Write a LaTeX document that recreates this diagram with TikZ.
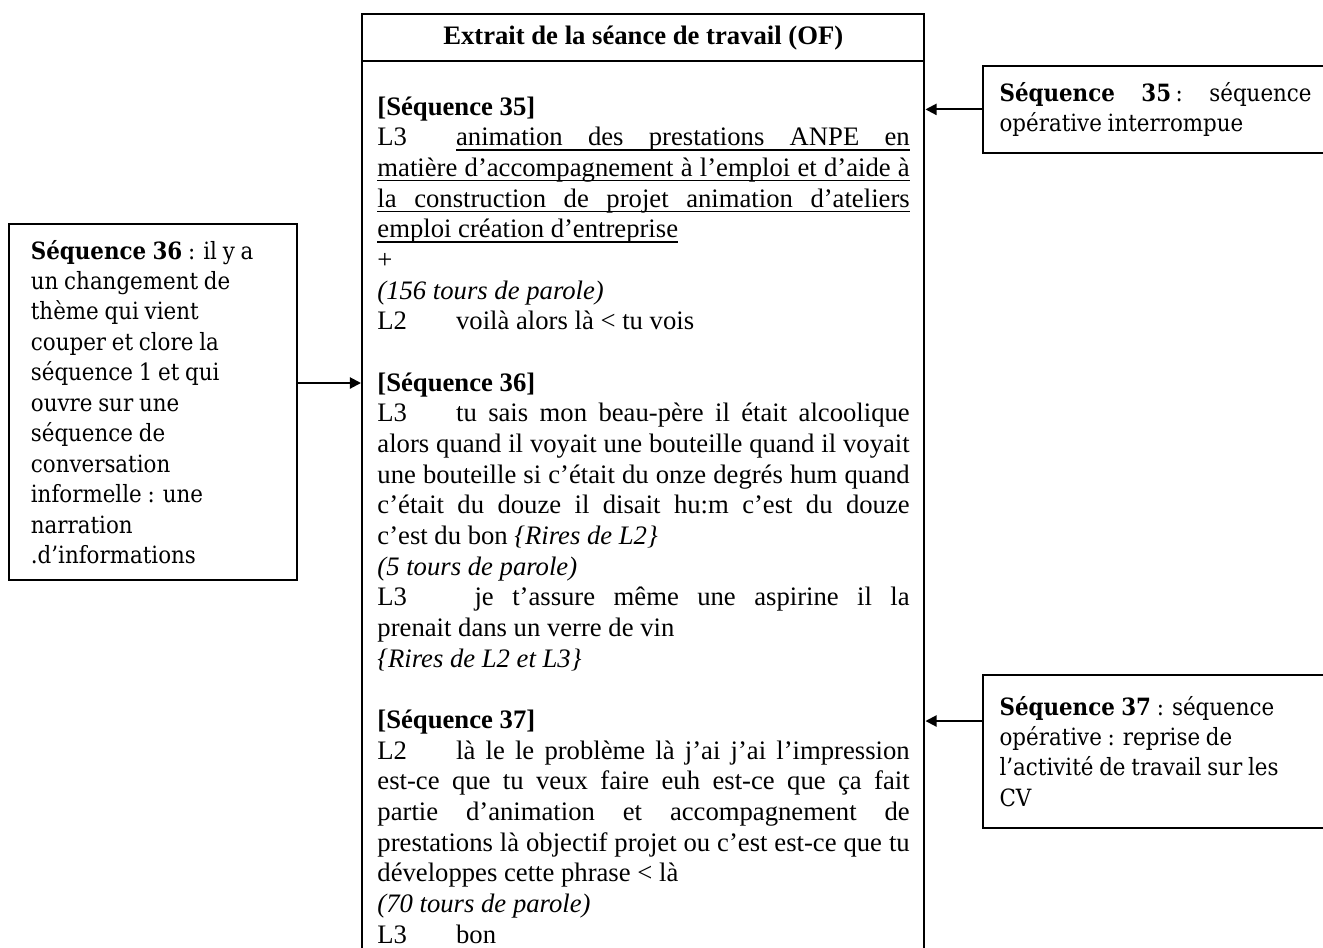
\documentclass[tikz,border=0pt]{standalone}
\usepackage{fontspec}
\setmainfont{Liberation Serif}
\newfontfamily\notefont[WordSpace=0.85]{DejaVu Serif Condensed}
\usetikzlibrary{arrows.meta}

% tab stop, justified line and underline
\newlength\largeur
\setlength\largeur{239.5bp}
\newcommand{\esp}{\spaceskip=0pt\relax\xspaceskip=0pt\relax}
\newcommand{\tabL}[1]{\makebox[35.4bp][l]{#1}}
\newcommand{\jline}[1]{\leavevmode\makebox[\largeur][s]{#1}}
\newcommand{\soul}[2]{\leavevmode\rlap{\raisebox{-2.3bp}{\rule{#1}{0.6bp}}}\makebox[#1][s]{#2}}
\newsavebox\ulbox
\newcommand{\soulN}[1]{\leavevmode\sbox\ulbox{#1}\rlap{\raisebox{-2.3bp}{\rule{\wd\ulbox}{0.6bp}}}\usebox\ulbox}

\begin{document}
\begin{tikzpicture}[x=0.45bp, y=-0.45bp,
        cadre/.style={draw, line width=1.1bp, inner sep=0pt, anchor=north west},
        note/.style={draw, line width=0.8bp, anchor=north west, align=left,
            font=\notefont\fontsize{10.7bp}{13.7bp}\selectfont, execute at begin node={\esp}},
        texte/.style={anchor=base west, inner sep=0pt, text width=239.5bp, align=left,
            font=\fontsize{12bp}{13.8bp}\selectfont, execute at begin node={\esp}},
        fleche/.style={line width=0.9bp, -{Triangle[length=5bp, width=5bp]}}]
        \useasboundingbox (0,0) rectangle (1323,947);
        \clip (0,0) rectangle (1323,947);

        % Extract table
        \node[cadre, minimum width=252.9bp, minimum height=444bp] (extrait) at (361,13) {};
        \node[cadre, minimum width=252.9bp, minimum height=21.15bp,
            font=\bfseries\fontsize{12bp}{13.8bp}\selectfont] (titre) at (361,13)
            {Extrait de la séance de travail (OF)};

        \node[texte] (dialogue) at (377,115) {%
            \textbf{[Séquence 35]}\\
            \jline{\tabL{L3}\soul{204.1bp}{animation des prestations ANPE en}}\\
            \soul{\largeur}{matière d’accompagnement à l’emploi et d’aide à}\\
            \soul{\largeur}{la construction de projet animation d’ateliers}\\
            \soulN{emploi création d’entreprise}\\
            +\\
            \textit{(156 tours de parole)}\\
            \tabL{L2}voilà alors là < tu vois\\[13.8bp]
            \textbf{[Séquence 36]}\\
            \jline{\tabL{L3}tu sais mon beau-père il était alcoolique}\\
            \jline{alors quand il voyait une bouteille quand il voyait}\\
            \jline{une bouteille si c’était du onze degrés hum quand}\\
            \jline{c’était du douze il disait hu:m c’est du douze}\\
            c’est du bon \textit{\{Rires de L2\}}\\
            \textit{(5 tours de parole)}\\
            \jline{\tabL{L3}\ je t’assure même une aspirine il la}\\
            prenait dans un verre de vin\\
            \textit{\{Rires de L2 et L3\}}\\[13.8bp]
            \textbf{[Séquence 37]}\\
            \jline{\tabL{L2}là le le problème là j’ai j’ai l’impression}\\
            \jline{est-ce que tu veux faire euh est-ce que ça fait}\\
            \jline{partie d’animation et accompagnement de}\\
            \jline{prestations là objectif projet ou c’est est-ce que tu}\\
            développes cette phrase < là\\
            \textit{(70 tours de parole)}\\
            \tabL{L3}bon};

        % Comments
        \node[note, minimum width=129.6bp, minimum height=160.2bp, text width=109.8bp,
            inner xsep=9.9bp] (seq36) at (8,223) {%
            \textbf{Séquence 36} : il y a\\
            un changement de\\
            thème qui vient\\
            couper et clore la\\
            séquence 1 et qui\\
            ouvre sur une\\
            séquence de\\
            conversation\\
            informelle : une\\
            narration\\
            .d’informations};
        \node[note, minimum height=39.15bp, text width=160bp, inner xsep=7.5bp] (seq35) at (982,65) {%
            \hbox to 140.4bp{\textbf{Séquence}\hfil\textbf{35}\kern2bp:\hfil séquence}\\
            opérative interrompue};
        \node[note, minimum height=68.85bp, text width=160bp, inner xsep=7.5bp] (seq37) at (982,674) {%
            \textbf{Séquence 37} : séquence\\
            opérative : reprise de\\
            l’activité de travail sur les\\
            CV};

        % Arrows
        \draw[fleche] (seq36.east |- 0,383) -- (extrait.west |- 0,383);
        \draw[fleche] (seq35.west) -- (extrait.east |- seq35.west);
        \draw[fleche] (seq37.west |- 0,721) -- (extrait.east |- 0,721);
    \end{tikzpicture}
\end{document}
